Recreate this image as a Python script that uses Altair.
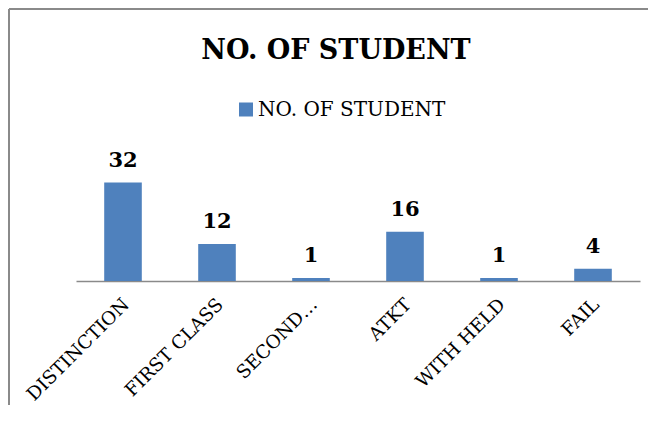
import altair as alt
import pandas as pd

categories = ["DISTINCTION", "FIRST CLASS", "SECOND…", "ATKT", "WITH HELD", "FAIL"]
students = [32, 12, 1, 16, 1, 4]
series_name = "NO. OF STUDENT"

df = pd.DataFrame({
    "category": categories,
    "students": students,
    "series": [series_name] * len(categories),
})

FONT = "DejaVu Serif"
BLUE = "#4F81BD"
GRAY = "#8a8a8a"

# view origin in page coordinates: (76, 158)
x_enc = alt.X(
    "category:N", sort=categories, title=None,
    scale=alt.Scale(paddingInner=0.6, paddingOuter=0.3),
    axis=alt.Axis(labelAngle=-45, labelAlign="right", labelBaseline="middle",
                  labelFont=FONT, labelFontSize=18.5, labelColor="black",
                  labelPadding=20, labelOffset=3, ticks=False,
                  domainColor=GRAY, domainWidth=1.5, labelLimit=300),
)
y_enc = alt.Y("students:Q", scale=alt.Scale(domain=[0, 40]), axis=None)

base = alt.Chart(df)
bars = base.mark_bar().encode(
    x=x_enc, y=y_enc,
    color=alt.Color("series:N", scale=alt.Scale(range=[BLUE]),
                    legend=alt.Legend(orient="none", legendX=160, legendY=-58.5,
                                      title=None, symbolType="square", symbolSize=196,
                                      symbolStrokeWidth=0, labelFont=FONT,
                                      labelFontSize=20, labelColor="black",
                                      labelOffset=2, padding=0, labelLimit=400)),
)
labels = base.mark_text(font=FONT, fontSize=21, fontWeight="bold",
                        baseline="alphabetic", dy=-16, color="black").encode(
    x=alt.X("category:N", sort=categories), y=y_enc, text="students:Q")

frame_df = pd.DataFrame({"k": [0]})
left_line = alt.Chart(frame_df).mark_rule(color=GRAY, strokeWidth=2).encode(
    x=alt.value(-67), y=alt.value(-149), y2=alt.value(300))
top_line = alt.Chart(frame_df).mark_rule(color=GRAY, strokeWidth=2).encode(
    x=alt.value(-67), x2=alt.value(600), y=alt.value(-149))

chart = alt.layer(left_line, top_line, bars, labels).properties(
    width=564, height=123,
    padding={"left": 68, "top": 150, "right": 8, "bottom": 124},
    autosize=alt.AutoSizeParams(type="none"),
    title=alt.Title(series_name, font=FONT, fontSize=27, fontWeight="bold",
                    color="black", anchor="middle", frame="group", dx=-22,
                    offset=0, dy=78, baseline="alphabetic"),
).configure_view(stroke=None)

chart.save("out.html", embed_options={"renderer": "svg", "actions": False})
